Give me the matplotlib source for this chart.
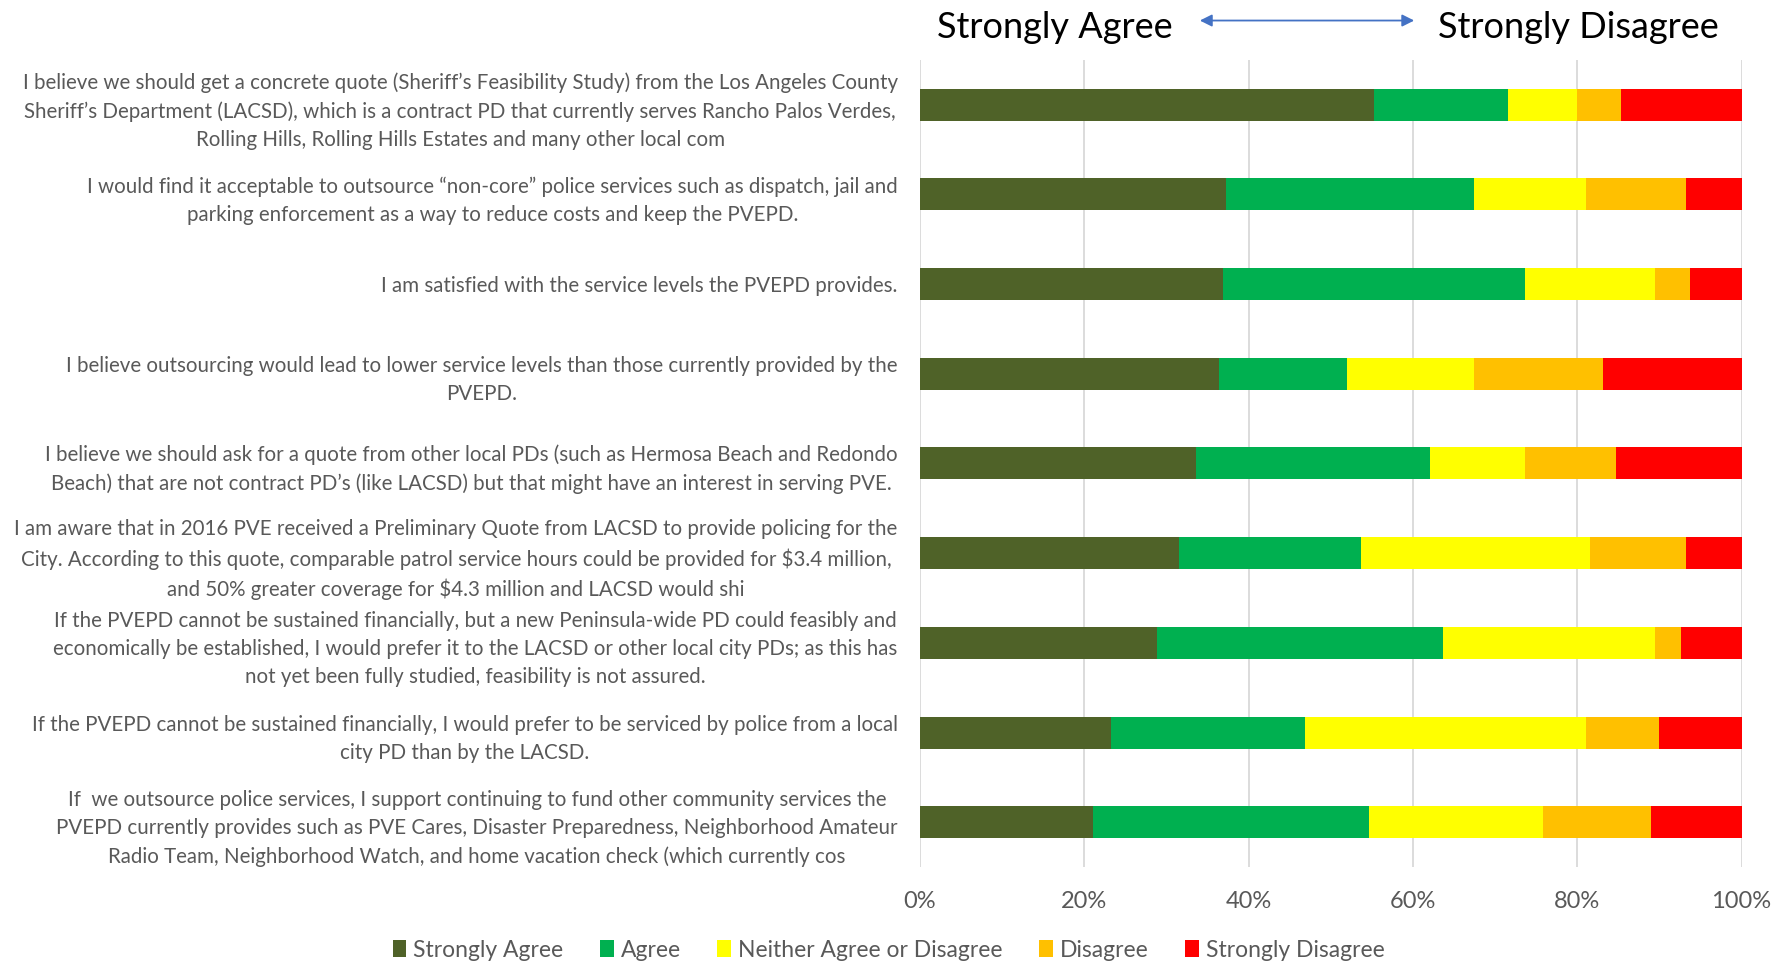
import numpy as np
import matplotlib
matplotlib.use("Agg")
import matplotlib.pyplot as plt

# survey statements, top to bottom
statements = [
    "I believe we should get a concrete quote (Sheriff’s Feasibility Study) from the Los Angeles County\n"
    "Sheriff’s Department (LACSD), which is a contract PD that currently serves Rancho Palos Verdes,\n"
    "Rolling Hills, Rolling Hills Estates and many other local com",
    "I would find it acceptable to outsource “non-core” police services such as dispatch, jail and\n"
    "parking enforcement as a way to reduce costs and keep the PVEPD.",
    "I am satisfied with the service levels the PVEPD provides.",
    "I believe outsourcing would lead to lower service levels than those currently provided by the\n"
    "PVEPD.",
    "I believe we should ask for a quote from other local PDs (such as Hermosa Beach and Redondo\n"
    "Beach) that are not contract PD’s (like LACSD) but that might have an interest in serving PVE.",
    "I am aware that in 2016 PVE received a Preliminary Quote from LACSD to provide policing for the\n"
    "City. According to this quote, comparable patrol service hours could be provided for \\$3.4 million,\n"
    "and 50% greater coverage for \\$4.3 million and LACSD would shi",
    "If the PVEPD cannot be sustained financially, but a new Peninsula-wide PD could feasibly and\n"
    "economically be established, I would prefer it to the LACSD or other local city PDs; as this has\n"
    "not yet been fully studied, feasibility is not assured.",
    "If the PVEPD cannot be sustained financially, I would prefer to be serviced by police from a local\n"
    "city PD than by the LACSD.",
    "If  we outsource police services, I support continuing to fund other community services the\n"
    "PVEPD currently provides such as PVE Cares, Disaster Preparedness, Neighborhood Amateur\n"
    "Radio Team, Neighborhood Watch, and home vacation check (which currently cos",
]

# percentages per answer
strongly_agree = [55.3, 37.3, 36.9, 36.4, 33.6, 31.5, 28.9, 23.2, 21.1]
agree          = [16.3, 30.1, 36.8, 15.6, 28.5, 22.2, 34.8, 23.7, 33.6]
neither        = [8.4, 13.7, 15.8, 15.4, 11.6, 27.8, 25.8, 34.2, 21.1]
disagree       = [5.3, 12.1, 4.2, 15.8, 11.0, 11.7, 3.1, 8.9, 13.2]
strongly_dis   = [14.7, 6.8, 6.3, 16.8, 15.3, 6.8, 7.4, 10.0, 11.0]

series_names = ["Strongly Agree", "Agree", "Neither Agree or Disagree", "Disagree", "Strongly Disagree"]
series_colors = ["#4F6228", "#00B050", "#FFFF00", "#FFC000", "#FF0000"]
series = [strongly_agree, agree, neither, disagree, strongly_dis]

xticks = [0, 20, 40, 60, 80, 100]
xtick_labels = ["0%", "20%", "40%", "60%", "80%", "100%"]

font = "Lato"
gray = "#595959"

fig = plt.figure(figsize=(17.88, 9.64), dpi=100, facecolor="white")
ax = fig.add_axes([0.5145, 0.1006, 0.4595, 0.8372])

y = np.arange(len(statements))
left = np.zeros(len(statements))
handles = []
for vals, name, col in zip(series, series_names, series_colors):
    vals = np.array(vals)
    h = ax.barh(y, vals, left=left, height=0.357, color=col, label=name, zorder=3)
    handles.append(h)
    left += vals

ax.set_xlim(0, 100)
ax.set_ylim(len(statements) - 0.5, -0.5)
ax.set_xticks(xticks)
ax.set_xticklabels(xtick_labels, fontsize=17, color=gray, family=font)
ax.set_yticks(y)
ax.set_yticklabels(statements, fontsize=14.8, color=gray, family=font, linespacing=1.5)
for lab in ax.get_yticklabels():
    lab.set_multialignment("center")
ax.tick_params(axis="x", length=0, pad=17)
ax.tick_params(axis="y", length=0, pad=16)
ax.grid(axis="x", color="#D9D9D9", linewidth=1.3, zorder=0)
for s in ax.spines.values():
    s.set_visible(False)

# header with double arrow
fig.text(0.590, 0.971, "Strongly Agree", fontsize=26, family=font, ha="center", va="center", color="black")
fig.text(0.883, 0.971, "Strongly Disagree", fontsize=26, family=font, ha="center", va="center", color="black")
fig.patches.append(matplotlib.patches.FancyArrowPatch(
    (0.6695, 0.9787), (0.7925, 0.9787), transform=fig.transFigure,
    arrowstyle="<|-|>", mutation_scale=18, color="#4472C4", linewidth=1.3))

fig.legend(handles=handles, labels=series_names, loc="center", bbox_to_anchor=(0.497, 0.0145),
           ncol=5, frameon=False, handlelength=0.6, handleheight=0.7, handletextpad=0.3,
           columnspacing=1.6, prop={"family": font, "size": 16.5}, labelcolor=gray)

fig.savefig("out.png", dpi=100, facecolor="white")
